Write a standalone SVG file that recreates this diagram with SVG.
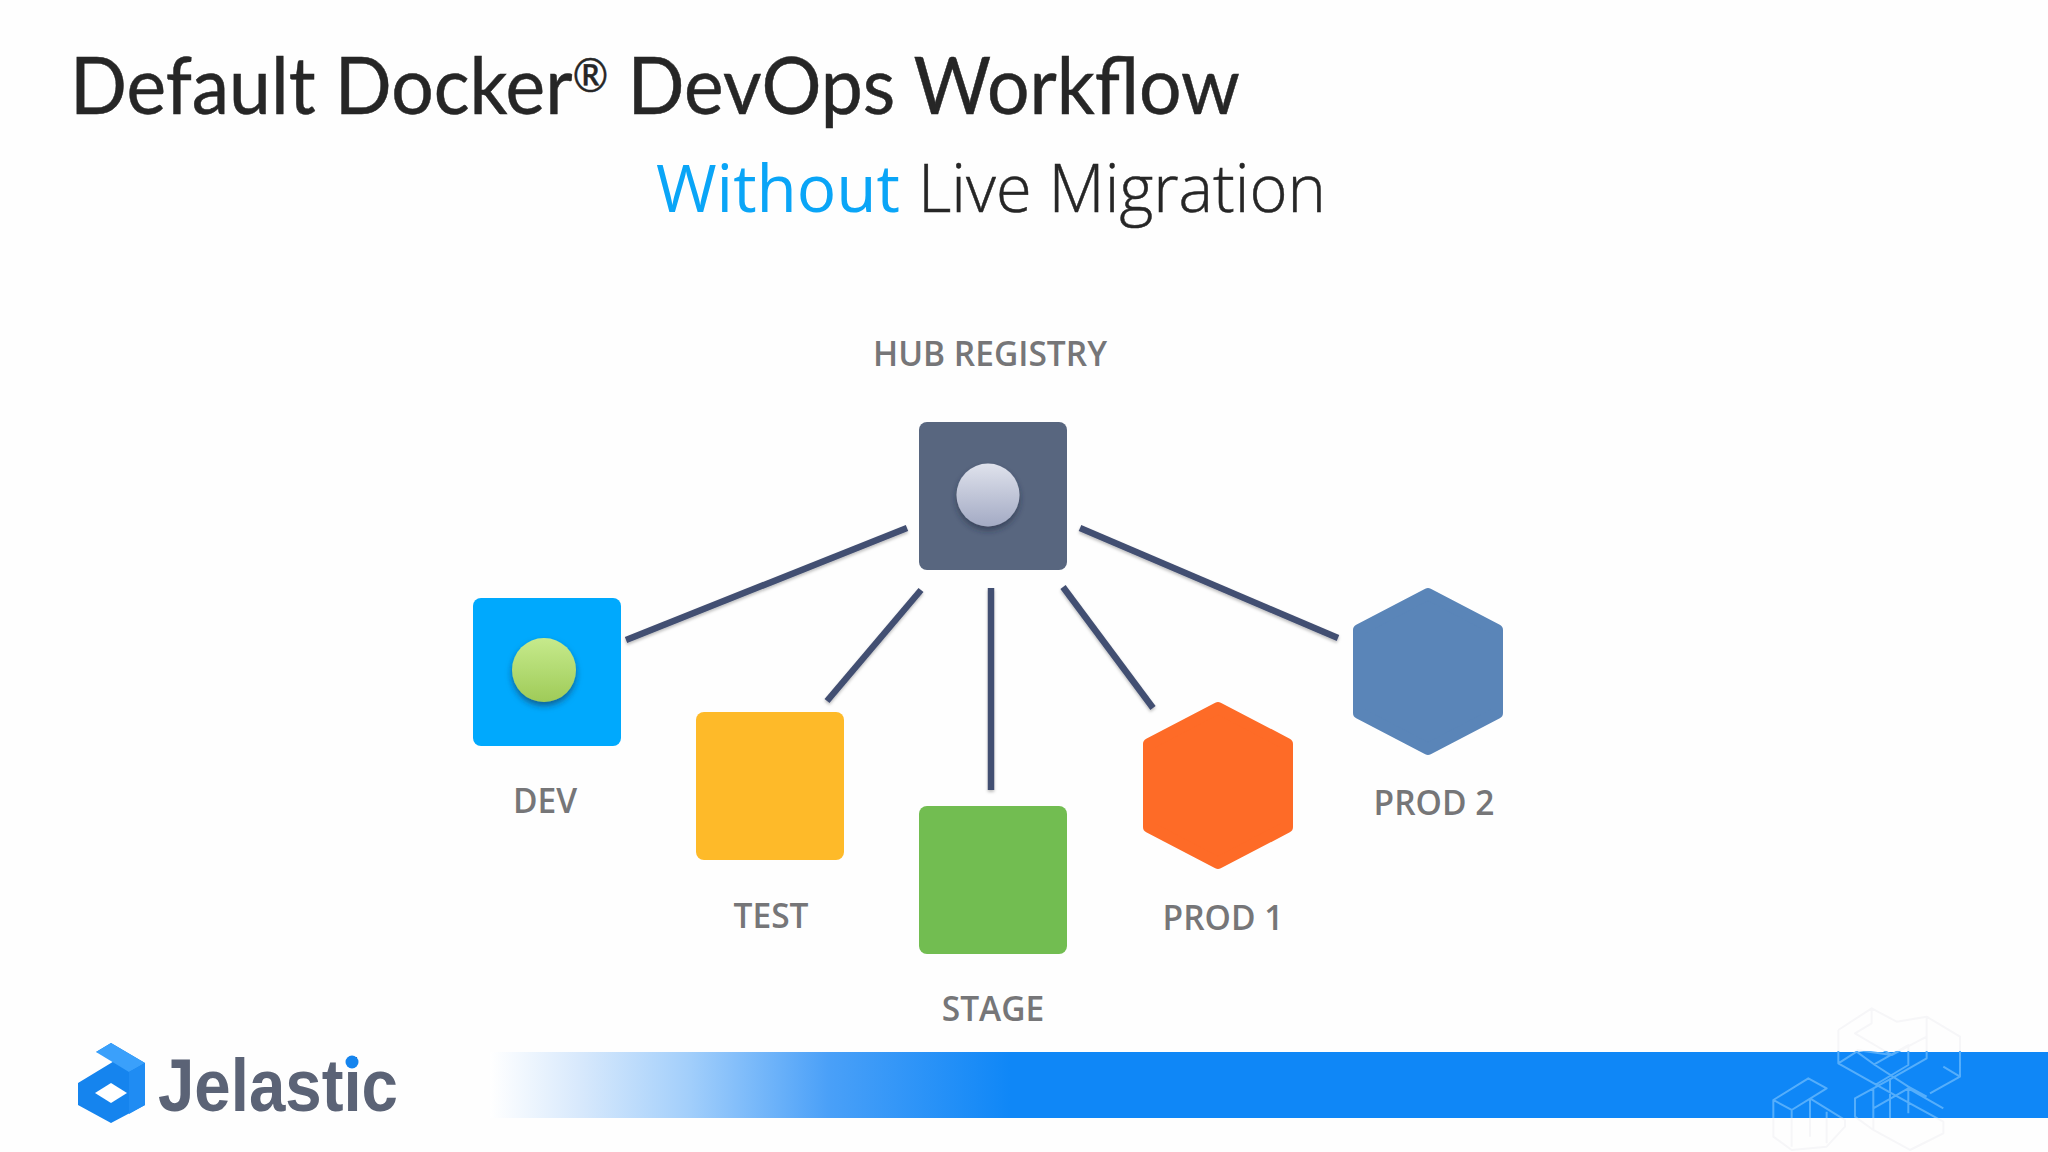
<svg xmlns="http://www.w3.org/2000/svg" width="2048" height="1152" viewBox="0 0 2048 1152">
<style>
.title{font-family:"Lato","Liberation Sans",sans-serif;font-size:80px;fill:#262626;stroke:#262626;stroke-width:.5px}
.sub{font-family:"Open Sans","Liberation Sans",sans-serif;font-size:66px}
.lab{font-family:"Open Sans","Liberation Sans",sans-serif;font-weight:600;font-size:33.500px;fill:#767678;text-anchor:middle}
.link{stroke:#434f72;stroke-width:6.500;fill:none}
.hex{stroke-width:12;stroke-linejoin:round}
.wm{fill:none;stroke-width:6;stroke-linejoin:round}
</style>
<defs>
<filter id="ls" filterUnits="userSpaceOnUse" x="500" y="450" width="950" height="400"><feDropShadow dx="0" dy="2" stdDeviation="1.5" flood-color="#000" flood-opacity=".25"/></filter>
<linearGradient id="band" x1="490" x2="1010" y1="0" y2="0" gradientUnits="userSpaceOnUse"><stop offset="0" stop-color="#ffffff"/><stop offset=".18" stop-color="#d6e8fc"/><stop offset=".38" stop-color="#a3cffb"/><stop offset=".65" stop-color="#4aa0f8"/><stop offset="1" stop-color="#0f87f7"/></linearGradient>
<linearGradient id="ball1" x1="0" x2="0" y1="0" y2="1"><stop offset="0" stop-color="#dfe2ec"/><stop offset="1" stop-color="#a3aac4"/></linearGradient>
<linearGradient id="ball2" x1="0" x2="0" y1="0" y2="1"><stop offset="0" stop-color="#c6ea8c"/><stop offset="1" stop-color="#9fcb58"/></linearGradient>
<filter id="bs" x="-30%" y="-30%" width="160%" height="160%"><feDropShadow dx="0" dy="4" stdDeviation="3" flood-color="#1d2a3c" flood-opacity=".55"/></filter>
<clipPath id="inBand"><rect x="1700" y="1051" width="348" height="67"/></clipPath>
<clipPath id="outBand"><path d="M1700 980H2048V1051H1700ZM1700 1118H2048V1152H1700Z"/></clipPath>
<path id="wmShape" d="M415 150L515 85L590 125L680 110L780 170V290L690 340M415 150V250L575 340L730 425V460L630 510L520 450L465 410V355L575 295L680 235V110M515 85V130L465 160L575 225L470 210M520 255L625 195V255L525 315M520 325V450M570 295V420M625 325V400M520 385L625 325L730 385M730 260L780 290M415 250L470 215L525 255L625 320L680 350M575 225L680 170M220 360L325 295L380 325L275 390ZM220 360V470L275 510L380 500L435 440V420L330 355M275 390V500M330 355V470M380 395V490"/>
</defs>
<rect width="2048" height="1152" fill="#fefefe"/>
<g id="heading">
<text class="title" x="70" y="114" textLength="1170" lengthAdjust="spacingAndGlyphs">Default Docker<tspan dy="-22" style="font-size:46px">®</tspan><tspan dy="22"> DevOps Workflow</tspan></text>
<text class="sub" x="656" y="212" font-weight="400" fill="#0aa5f7" textLength="244" lengthAdjust="spacingAndGlyphs">Without</text>
<text class="sub" x="918" y="212" font-weight="300" fill="#262626" stroke="#262626" stroke-width=".5" textLength="408" lengthAdjust="spacingAndGlyphs">Live Migration</text>
</g>
<g id="connectors" filter="url(#ls)">
<line class="link" x1="907" y1="528" x2="626" y2="640"/>
<line class="link" x1="921" y1="590" x2="827" y2="701"/>
<line class="link" x1="991" y1="588" x2="991" y2="790"/>
<line class="link" x1="1063" y1="587" x2="1153" y2="708"/>
<line class="link" x1="1080" y1="528" x2="1338" y2="638"/>
</g>
<g id="hub"><rect x="919" y="422" width="148" height="148" rx="8" fill="#58667f"/><circle cx="988" cy="495" r="31.500" fill="url(#ball1)" filter="url(#bs)"/><text class="lab" x="990" y="366">HUB REGISTRY</text></g>
<g id="dev"><rect x="473" y="598" width="148" height="148" rx="8" fill="#00a9fd"/><circle cx="544" cy="670" r="32" fill="url(#ball2)" filter="url(#bs)"/><text class="lab" x="545" y="813">DEV</text></g>
<g id="test"><rect x="696" y="712" width="148" height="148" rx="8" fill="#feba29"/><text class="lab" x="771" y="928">TEST</text></g>
<g id="stage"><rect x="919" y="806" width="148" height="148" rx="8" fill="#72bd51"/><text class="lab" x="993" y="1021">STAGE</text></g>
<g id="prod1"><polygon class="hex" points="1218,708 1287,744 1287,827 1218,863 1149,827 1149,744" fill="#fe6b27" stroke="#fe6b27"/><text class="lab" x="1223" y="930">PROD 1</text></g>
<g id="prod2"><polygon class="hex" points="1428,594 1497,630 1497,713 1428,749 1359,713 1359,630" fill="#5a85b8" stroke="#5a85b8"/><text class="lab" x="1434" y="815">PROD 2</text></g>
<g id="band-strip">
<rect x="490" y="1052" width="1558" height="66" fill="url(#band)"/>
<g clip-path="url(#inBand)"><use href="#wmShape" class="wm" transform="translate(1700 980) scale(.3333)" stroke="#55aefb"/></g>
<g clip-path="url(#outBand)"><use href="#wmShape" class="wm" transform="translate(1700 980) scale(.3333)" stroke="#f6f6f8"/></g>
</g>
<g id="logo">
<path d="M78 1083L111 1063L120 1057L96 1052L111 1043L145 1063V1105L111 1123L78 1105Z" fill="#1584ee"/>
<path d="M96 1052L111 1043L145 1063L129 1072Z" fill="#3aa0fb"/>
<path d="M129 1072L145 1063V1105L129 1114Z" fill="#1f8cf3"/>
<path d="M111 1083L95 1093L111 1103L127 1093Z" fill="#fff"/>
<text x="158" y="1111" font-family="'Liberation Sans',sans-serif" font-weight="700" font-size="75" fill="#5b6376" textLength="240" lengthAdjust="spacingAndGlyphs">Jelastic</text>
<circle cx="352" cy="1062" r="6.500" fill="#1584ee"/>
</g>
</svg>
